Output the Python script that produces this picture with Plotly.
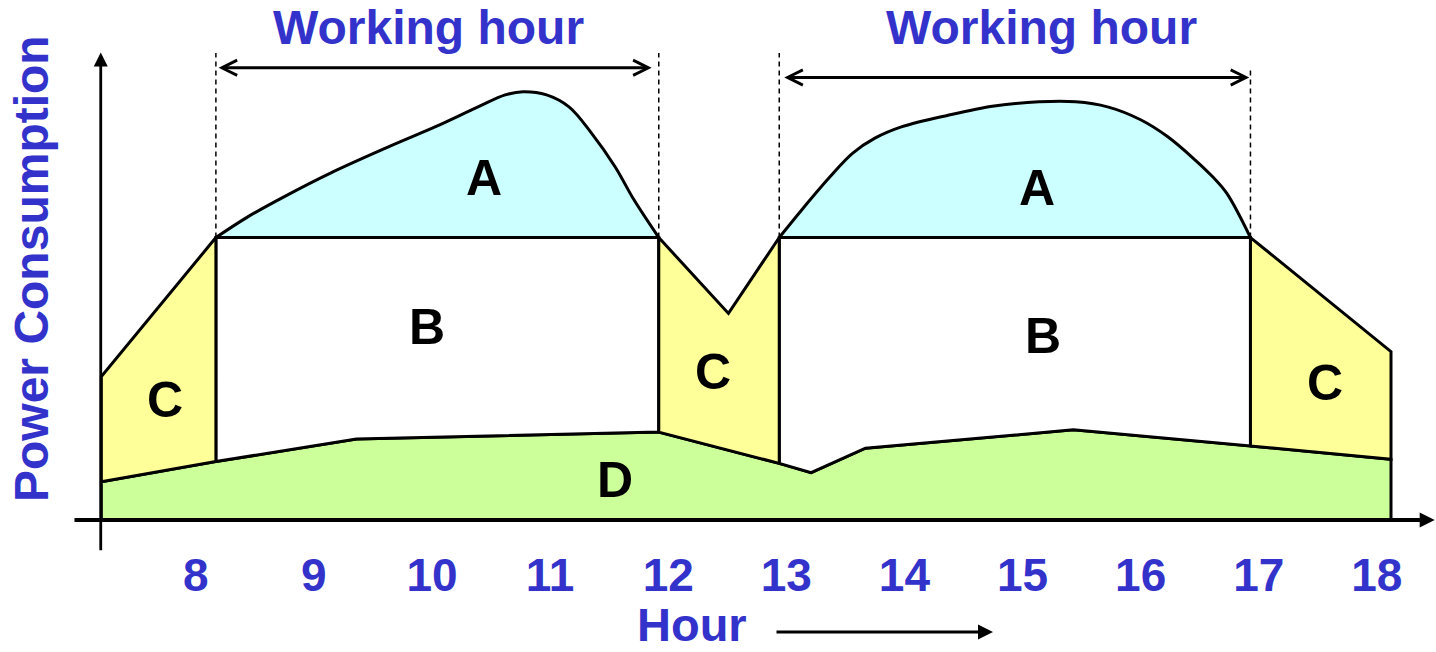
import plotly.graph_objects as go

# ---------------- data (x: hour, y: power consumption, arbitrary units) ----------------
hour_ticks = [8, 9, 10, 11, 12, 13, 14, 15, 16, 17, 18]
hour_tick_labels = ["8", "9", "10", "11", "12", "13", "14", "15", "16", "17", "18"]

t_start = 7.2          # left edge of the profile
t_work1_start = 8.17   # start of the first working period
t_work1_end = 11.92    # end of the first working period
t_work2_start = 12.94  # start of the second working period
t_work2_end = 16.93    # end of the second working period
t_end = 18.12          # right edge of the profile

b_level = 61.4         # top of block B

# D: base load profile
d_hours = [7.2, 8.17, 9.36, 11.92, 12.94, 13.21, 13.67, 15.43, 16.93, 18.12]
d_power = [8.3, 12.7, 17.6, 19.1, 12.3, 10.3, 15.6, 19.6, 16.1, 13.2]

# C: outer edges of the transition blocks
c_left_start_power = 31.2
c_mid_dip_hour = 12.51
c_mid_dip_power = 44.9
c_right_end_power = 36.6

# A: peaks above B
a1_hours = [8.17, 8.44, 8.75, 9.14, 9.64, 10.03, 10.39, 10.62, 10.77, 10.97, 11.16, 11.35, 11.55, 11.71, 11.92]
a1_power = [61.4, 65.9, 70.3, 75.4, 81.2, 85.5, 89.8, 92.4, 93.1, 92.4, 89.8, 84.1, 76.8, 69.6, 61.4]
a2_hours = [12.94, 13.13, 13.37, 13.56, 13.75, 13.98, 14.37, 14.76, 15.14, 15.45, 15.72, 16.0, 16.23, 16.46, 16.61, 16.73, 16.93]
a2_power = [61.4, 67.4, 74.6, 79.7, 83.0, 85.5, 88.0, 90.0, 90.9, 90.9, 89.8, 87.0, 83.3, 78.3, 74.6, 71.0, 61.4]

# region labels
region_names = ["A", "A", "B", "B", "C", "C", "C", "D"]
region_hours = [10.44, 15.12, 9.96, 15.17, 7.74, 12.38, 17.56, 11.55]
region_power = [74.3, 72.1, 42.0, 39.9, 26.1, 32.2, 29.8, 8.7]

# ---------------- styles ----------------
BLUE = "#3333CC"
FONT = "Liberation Sans, Arial, sans-serif"
COL_A = "#CCFFFF"
COL_B = "#FFFFFF"
COL_C = "#FFFF99"
COL_D = "#CCFF99"
TXT = 48


def d_at(h):
    return d_power[d_hours.index(h)]


def d_between(h0, h1):
    return [(h, p) for h, p in zip(d_hours, d_power) if h0 <= h <= h1]


fig = go.Figure()


def poly(xs, ys, fill, shape="linear", close=True):
    if close:
        xs = list(xs) + [xs[0]]
        ys = list(ys) + [ys[0]]
    fig.add_trace(go.Scatter(x=xs, y=ys, mode="lines", fill="toself", fillcolor=fill,
                             line=dict(color="black", width=3, shape=shape),
                             hoverinfo="skip", showlegend=False))


# D
poly(d_hours + [t_end, t_start], d_power + [0, 0], COL_D)

# A (peaks; the flat base is drawn by B)
poly(a1_hours, a1_power, COL_A, "spline", close=False)
poly(a2_hours, a2_power, COL_A, "spline", close=False)

# B blocks
for h0, h1 in [(t_work1_start, t_work1_end), (t_work2_start, t_work2_end)]:
    bottom = d_between(h0, h1)[::-1]
    xs = [h0, h0, h1] + [h for h, _ in bottom]
    ys = [d_at(h0), b_level, b_level] + [p for _, p in bottom]
    poly(xs, ys, COL_B, close=False)

# C blocks
poly([t_start, t_start, t_work1_start, t_work1_start],
     [d_at(t_start), c_left_start_power, b_level, d_at(t_work1_start)], COL_C)
poly([t_work1_end, t_work1_end, c_mid_dip_hour, t_work2_start, t_work2_start],
     [d_at(t_work1_end), b_level, c_mid_dip_power, b_level, d_at(t_work2_start)], COL_C)
poly([t_work2_end, t_work2_end, t_end, t_end],
     [d_at(t_work2_end), b_level, c_right_end_power, d_at(t_end)], COL_C)

# region letters
for name, h, p in zip(region_names, region_hours, region_power):
    fig.add_annotation(x=h, y=p, text=name, showarrow=False, xanchor="center", yanchor="middle",
                       font=dict(family=FONT, size=50, color="black", weight="bold"))

# dashed working-hour markers
for h, top in [(t_work1_start, 101.5), (t_work1_end, 101.5), (t_work2_start, 101.5), (t_work2_end, 98.5)]:
    fig.add_shape(type="line", xref="x", yref="y", x0=h, x1=h, y0=b_level, y1=top,
                  line=dict(color="black", width=1.5, dash="5px,4px"))

# working hour double arrows
for h0, h1, p in [(8.18, 11.86, 98.3), (12.97, 16.92, 96.2)]:
    fig.add_annotation(x=h1, y=p, ax=h0, ay=p, xref="x", yref="y", axref="x", ayref="y",
                       text="", showarrow=True, arrowside="end+start",
                       arrowhead=5, startarrowhead=5, arrowsize=1.0, startarrowsize=1.0,
                       arrowwidth=3, arrowcolor="black", standoff=0, startstandoff=0)

for xc in (428, 1041):
    fig.add_annotation(x=xc / 1436, y=1 - 28 / 652, xref="paper", yref="paper", text="Working hour",
                       showarrow=False, xanchor="center", yanchor="middle",
                       font=dict(family=FONT, size=TXT, color=BLUE, weight="bold"))

# axes with arrows
fig.add_annotation(x=18.49, y=0, ax=6.96, ay=0, xref="x", yref="y", axref="x", ayref="y",
                   text="", showarrow=True, arrowhead=2, arrowsize=0.75, arrowwidth=4,
                   arrowcolor="black", standoff=0)
fig.add_annotation(x=7.195, y=101.6, ax=7.195, ay=-6.9, xref="x", yref="y", axref="x", ayref="y",
                   text="", showarrow=True, arrowhead=2, arrowsize=1.0, arrowwidth=2.8,
                   arrowcolor="black", standoff=0)

# axis titles
fig.add_annotation(x=32 / 1436, y=1 - 269 / 652, xref="paper", yref="paper", text="Power Consumption",
                   textangle=-90, showarrow=False, xanchor="center", yanchor="middle",
                   font=dict(family=FONT, size=TXT, color=BLUE, weight="bold"))
fig.add_annotation(x=691.5 / 1436, y=0, xref="paper", yref="paper", text="Hour",
                   showarrow=False, xanchor="center", yanchor="bottom", borderpad=0,
                   font=dict(family=FONT, size=47, color=BLUE, weight="bold"))
fig.add_annotation(x=993 / 1436, y=1 - 632 / 652, xref="paper", yref="paper", ax=-218, ay=0,
                   axref="pixel", ayref="pixel", text="", showarrow=True, arrowhead=2,
                   arrowsize=1.0, arrowwidth=3, arrowcolor="black", standoff=0)

fig.update_layout(
    width=1436, height=652,
    margin=dict(l=0, r=0, t=0, b=0),
    paper_bgcolor="white", plot_bgcolor="white",
    showlegend=False,
    xaxis=dict(range=[6.342, 18.501], tickmode="array", tickvals=hour_ticks, ticktext=hour_tick_labels,
               tickfont=dict(family=FONT, size=46, color=BLUE, weight="bold"),
               showgrid=False, zeroline=False, showline=False, ticks="",
               anchor="free", position=(652 - 544) / 652, automargin=False, fixedrange=True),
    yaxis=dict(range=[-28.70, 113.04], visible=False, showgrid=False, zeroline=False, fixedrange=True),
)

fig.write_html("out.html", config={"displayModeBar": False},
               post_script="document.body.style.margin='0px';document.body.style.overflow='hidden';")
